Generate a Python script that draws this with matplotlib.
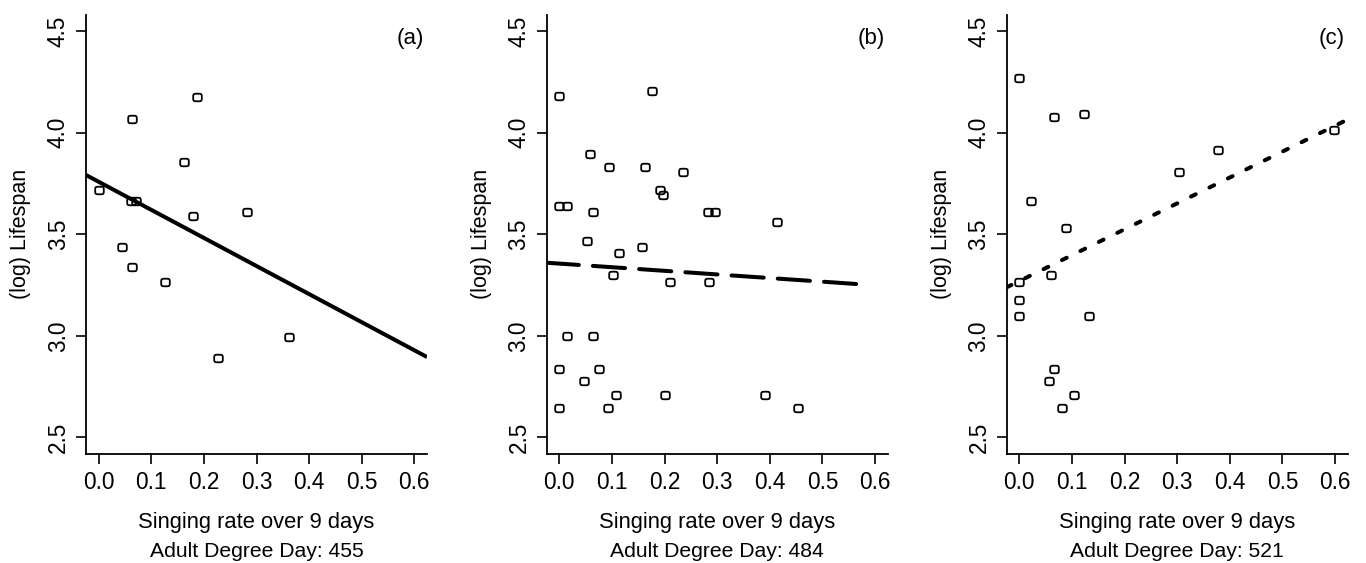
import numpy as np
import matplotlib
matplotlib.use("Agg")
import matplotlib.pyplot as plt
from matplotlib.path import Path

plt.rcParams['font.family'] = ['Liberation Sans', 'DejaVu Sans']

# panel (a) - adult degree day 455
a_x = [0.0, 0.063, 0.186, 0.162, 0.061, 0.071, 0.180, 0.282, 0.045, 0.063,
       0.127, 0.227, 0.361]
a_y = [3.716, 4.066, 4.177, 3.854, 3.663, 3.663, 3.588, 3.612, 3.436, 3.338,
       3.263, 2.892, 2.995]

# panel (b) - adult degree day 484
b_x = [0.0, 0.177, 0.059, 0.094, 0.162, 0.235, 0.192, 0.197, 0.0, 0.0145,
       0.064, 0.282, 0.295, 0.413, 0.052, 0.157, 0.113, 0.102, 0.211, 0.284,
       0.0145, 0.064, 0.0, 0.075, 0.047, 0.107, 0.2005, 0.391, 0.0, 0.093,
       0.453]
b_y = [4.179, 4.208, 3.898, 3.831, 3.831, 3.808, 3.719, 3.694, 3.640, 3.640,
       3.612, 3.612, 3.612, 3.560, 3.469, 3.438, 3.407, 3.300, 3.264, 3.264,
       2.998, 2.998, 2.839, 2.839, 2.780, 2.711, 2.711, 2.711, 2.644, 2.644,
       2.644]

# panel (c) - adult degree day 521
c_x = [0.0, 0.066, 0.123, 0.377, 0.304, 0.598, 0.023, 0.089, 0.0, 0.060,
       0.0, 0.0, 0.133, 0.066, 0.0565, 0.103, 0.0805]
c_y = [4.269, 4.080, 4.095, 3.913, 3.808, 4.013, 3.665, 3.529, 3.264, 3.302,
       3.179, 3.098, 3.098, 2.839, 2.780, 2.711, 2.644]

panel_tags = ['(a)', '(b)', '(c)']
degree_days = [455, 484, 521]

# regression lines: intercept, slope, end of drawn range (None = full axis)
fit_intercept = [3.759, 3.356, 3.270]
fit_slope = [-1.383, -0.178, 1.275]
fit_end = [None, 0.565, None]

xticks = [0.0, 0.1, 0.2, 0.3, 0.4, 0.5, 0.6]
yticks = [2.5, 3.0, 3.5, 4.0, 4.5]

xs = [a_x, b_x, c_x]
ys = [a_y, b_y, c_y]
styles = ['-', (0, (8, 3.5)), (0, (1.3, 3.8))]

# rounded-square (superellipse) marker, slightly wider than tall
t = np.linspace(0, 2 * np.pi, 60)
mx = np.sign(np.cos(t)) * np.abs(np.cos(t)) ** 0.45
my = 0.88 * np.sign(np.sin(t)) * np.abs(np.sin(t)) ** 0.45
rsq = Path(np.column_stack([mx, my]), closed=True)

W, H = 1366, 563
fig = plt.figure(figsize=(W / 100, H / 100), dpi=100)

lefts = [86, 546.7, 1006.7]
ax_w = 341
top, bottom = 15, 453.7
xlim = (-0.024, 0.624)
ylim = (2.42, 4.58)

fs = 16.3
for i in range(3):
    ax = fig.add_axes([lefts[i] / W, (H - bottom) / H, ax_w / W, (bottom - top) / H])
    ax.plot(xs[i], ys[i], linestyle='none', marker=rsq, ms=6.2, mfc='none',
            mec='black', mew=1.3)

    x_end = fit_end[i] if fit_end[i] is not None else xlim[1]
    lx = np.array([xlim[0], x_end])
    ax.plot(lx, fit_intercept[i] + fit_slope[i] * lx, color='black', lw=2.9,
            linestyle=styles[i], dash_capstyle='round', solid_capstyle='butt')

    ax.set_xlim(xlim)
    ax.set_ylim(ylim)
    ax.set_xticks(xticks)
    ax.set_xticklabels(['%.1f' % v for v in xticks])
    ax.set_yticks(yticks)
    ax.set_yticklabels(['%.1f' % v for v in yticks])
    for lab in ax.get_yticklabels():
        lab.set_rotation(90)
        lab.set_va('center')
    ax.tick_params(axis='both', labelsize=fs, length=7.2, width=1.2, color='black')
    ax.tick_params(axis='x', pad=5.5)
    ax.tick_params(axis='y', pad=4.5)
    for s in ['top', 'right']:
        ax.spines[s].set_visible(False)
    for s in ['left', 'bottom']:
        ax.spines[s].set_linewidth(1.3)

    ax.text(-65 / ax_w, 0.5, '(log) Lifespan', rotation=90, ha='center', va='center',
            fontsize=15.5, transform=ax.transAxes)
    ax.text(0.5, -0.1557, 'Singing rate over 9 days', ha='center', va='center',
            fontsize=15.8, transform=ax.transAxes)
    ax.text(0.5, -0.2234, 'Adult Degree Day: %d' % degree_days[i], ha='center',
            va='center', fontsize=15.2, transform=ax.transAxes)
    ax.text(0.992, 0.947, panel_tags[i], ha='right', va='center', fontsize=16,
            transform=ax.transAxes)

fig.savefig('out.png', dpi=100)
